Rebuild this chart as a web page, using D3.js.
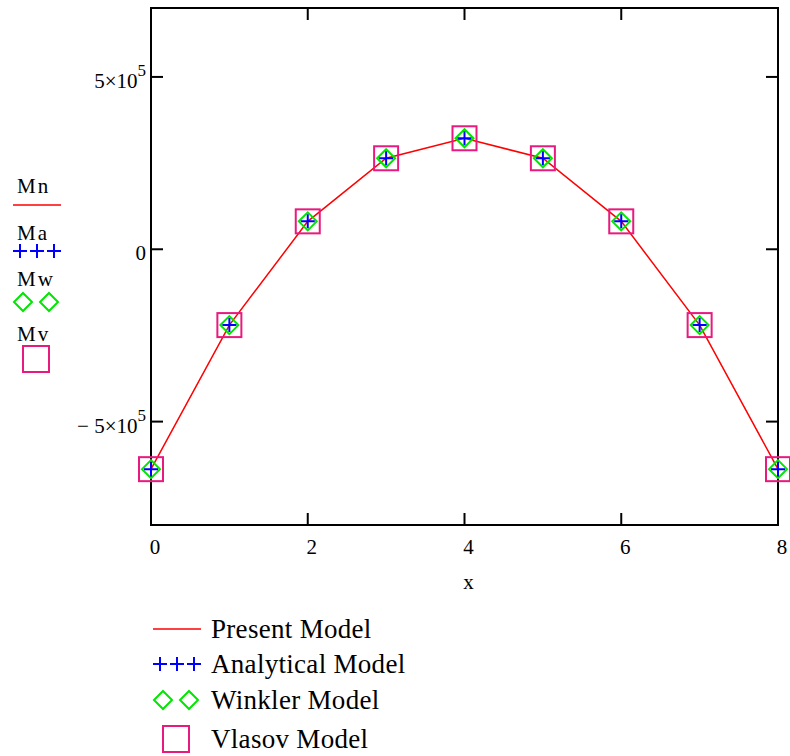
<!DOCTYPE html>
<html>
<head>
<meta charset="utf-8">
<script src="https://cdn.jsdelivr.net/npm/d3@7"></script>
<style>
  body { margin: 0; background: #fff; }
  svg text { font-family: "Liberation Serif", Tinos, "Times New Roman", "DejaVu Serif", serif; fill: #000; }
</style>
</head>
<body>
<div id="container"></div>
<script>
var w = 790;
var h = 756;

// data
var xs = [0, 1, 2, 3, 4, 5, 6, 7, 8];
var Mn = [-6.38e5, -2.2e5, 0.81e5, 2.64e5, 3.22e5, 2.64e5, 0.81e5, -2.2e5, -6.38e5];
var Ma = [-6.38e5, -2.2e5, 0.81e5, 2.64e5, 3.22e5, 2.64e5, 0.81e5, -2.2e5, -6.38e5];
var Mw = [-6.38e5, -2.2e5, 0.81e5, 2.64e5, 3.22e5, 2.64e5, 0.81e5, -2.2e5, -6.38e5];
var Mv = [-6.38e5, -2.2e5, 0.81e5, 2.64e5, 3.22e5, 2.64e5, 0.81e5, -2.2e5, -6.38e5];
var xTicks = [0, 2, 4, 6, 8];
var yTicks = [5e5, 0, -5e5];
var seriesNames = ["Present Model", "Analytical Model", "Winkler Model", "Vlasov Model"];
var sideNames = ["Mn", "Ma", "Mw", "Mv"];

var red = "#ff0000", blue = "#0000ff", green = "#00e600", pink = "#e8197f";
var serif = "'Liberation Serif', Tinos, 'Times New Roman', 'DejaVu Serif', serif";

var svg = d3.select("div#container").append("svg")
    .attr("width", w).attr("height", h)
    .attr("font-family", serif);

var x = d3.scaleLinear().domain([0, 8]).range([151, 778]);
var y = d3.scaleLinear().domain([-8e5, 7e5]).range([525, 8]);

// frame
svg.append("rect")
    .attr("x", x(0)).attr("y", y(7e5))
    .attr("width", x(8) - x(0)).attr("height", y(-8e5) - y(7e5))
    .attr("fill", "none").attr("stroke", "#000").attr("stroke-width", 2);

// inward ticks on all sides
var tl = 12;
svg.append("g").selectAll("line").data(xTicks.slice(1, -1)).enter().append("line")
    .attr("x1", d => x(d)).attr("x2", d => x(d))
    .attr("y1", y(-8e5)).attr("y2", y(-8e5) - tl)
    .attr("stroke", "#000").attr("stroke-width", 2);
svg.append("g").selectAll("line").data(xTicks.slice(1, -1)).enter().append("line")
    .attr("x1", d => x(d)).attr("x2", d => x(d))
    .attr("y1", y(7e5)).attr("y2", y(7e5) + tl)
    .attr("stroke", "#000").attr("stroke-width", 2);
svg.append("g").selectAll("line").data(yTicks).enter().append("line")
    .attr("x1", x(0)).attr("x2", x(0) + tl)
    .attr("y1", d => y(d)).attr("y2", d => y(d))
    .attr("stroke", "#000").attr("stroke-width", 2);
svg.append("g").selectAll("line").data(yTicks).enter().append("line")
    .attr("x1", x(8)).attr("x2", x(8) - tl)
    .attr("y1", d => y(d)).attr("y2", d => y(d))
    .attr("stroke", "#000").attr("stroke-width", 2);

// x tick labels
svg.append("g").selectAll("text").data(xTicks).enter().append("text")
    .attr("x", d => x(d) + 4).attr("y", 554)
    .attr("text-anchor", "middle").attr("font-size", 21)
    .text(d => d);

svg.append("text").attr("x", (x(0) + x(8)) / 2 + 4).attr("y", 589)
    .attr("text-anchor", "middle").attr("font-size", 21).text("x");

// y tick labels
var yl = svg.append("g").selectAll("text").data(yTicks).enter().append("text")
    .attr("x", 146).attr("y", d => y(d) + 11)
    .attr("text-anchor", "end").attr("font-size", 21);
yl.each(function(d) {
  var t = d3.select(this);
  if (d === 0) { t.text("0"); return; }
  t.append("tspan").text((d < 0 ? "\u2212 " : "") + "5\u00d710");
  t.append("tspan").attr("dy", -12).attr("font-size", 17).text("5");
});

// series
var pts = xs.map((d, i) => ({x: d, n: Mn[i], a: Ma[i], w: Mw[i], v: Mv[i]}));
var plot = svg.append("g");

plot.append("path").datum(pts)
    .attr("d", d3.line().x(d => x(d.x)).y(d => y(d.n)))
    .attr("fill", "none").attr("stroke", red).attr("stroke-width", 1.5);

var sq = 24, dm = 9, pl = 7;
plot.selectAll("rect.v").data(pts).enter().append("rect").attr("class", "v")
    .attr("x", d => x(d.x) - sq / 2).attr("y", d => y(d.v) - sq / 2)
    .attr("width", sq).attr("height", sq)
    .attr("fill", "none").attr("stroke", pink).attr("stroke-width", 2);

plot.selectAll("path.w").data(pts).enter().append("path").attr("class", "w")
    .attr("d", d => { var cx = x(d.x), cy = y(d.w);
      return `M${cx},${cy - dm}L${cx + dm},${cy}L${cx},${cy + dm}L${cx - dm},${cy}Z`; })
    .attr("fill", "none").attr("stroke", green).attr("stroke-width", 2);

plot.selectAll("path.a").data(pts).enter().append("path").attr("class", "a")
    .attr("d", d => { var cx = x(d.x), cy = y(d.a);
      return `M${cx - pl},${cy}H${cx + pl}M${cx},${cy - pl}V${cy + pl}`; })
    .attr("fill", "none").attr("stroke", blue).attr("stroke-width", 2);

// symbol helpers for legends
function drawSym(g, k, x0, cy) {
  if (k === 0) {
    g.append("line").attr("x1", x0).attr("x2", x0 + 48).attr("y1", cy).attr("y2", cy)
      .attr("stroke", red).attr("stroke-width", 1.5);
  } else if (k === 1) {
    [0, 1, 2].forEach(j => {
      var cx = x0 + 7 + j * 17;
      g.append("path").attr("d", `M${cx - 7},${cy}H${cx + 7}M${cx},${cy - 7}V${cy + 7}`)
        .attr("stroke", blue).attr("stroke-width", 2).attr("fill", "none");
    });
  } else if (k === 2) {
    [0, 1].forEach(j => {
      var cx = x0 + 10 + j * 26;
      g.append("path").attr("d", `M${cx},${cy - 9}L${cx + 9},${cy}L${cx},${cy + 9}L${cx - 9},${cy}Z`)
        .attr("stroke", green).attr("stroke-width", 2).attr("fill", "none");
    });
  } else {
    g.append("rect").attr("x", x0 + 10).attr("y", cy - 13).attr("width", 26).attr("height", 26)
      .attr("stroke", pink).attr("stroke-width", 2).attr("fill", "none");
  }
}

// left side labels
var side = svg.append("g");
var sideText = [193, 240, 286, 341];
var sideSym = [205, 251, 302, 359];
sideNames.forEach((s, k) => {
  side.append("text").attr("x", 17).attr("y", sideText[k]).attr("font-size", 21)
    .attr("letter-spacing", 2).text(s);
  drawSym(side, k, 13, sideSym[k]);
});

// bottom legend
var leg = svg.append("g");
var legY = [629, 664, 700, 739];
seriesNames.forEach((s, k) => {
  drawSym(leg, k, 153, legY[k]);
  leg.append("text").attr("x", 211).attr("y", legY[k] + 9).attr("font-size", 27)
    .attr("letter-spacing", 0.3).text(s);
});
</script>
</body>
</html>
